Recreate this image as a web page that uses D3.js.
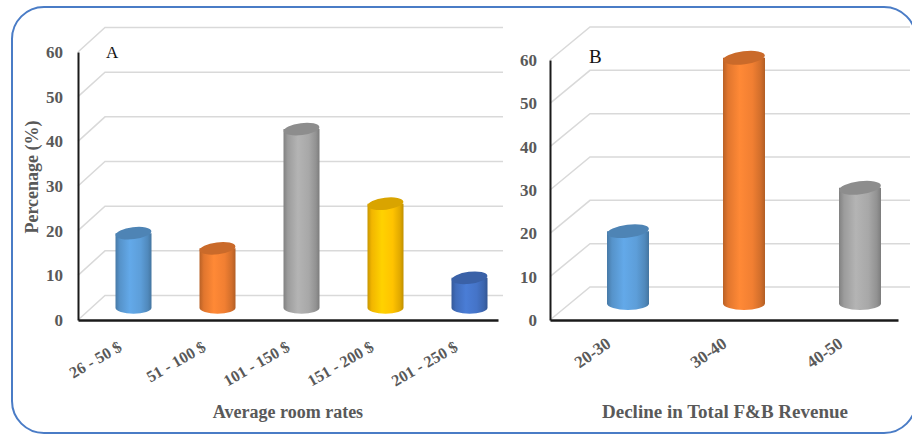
<!DOCTYPE html>
<html>
<head>
<meta charset="utf-8">
<script src="https://cdn.jsdelivr.net/npm/d3@7"></script>
<style>
  html, body { margin: 0; padding: 0; background: #fff; }
  svg { display: block; }
  text { font-family: "Liberation Serif", "Times New Roman", serif; }
</style>
</head>
<body>
<svg id="chart" width="912" height="434"></svg>
<script>
// ---- Data ----
const catsA = ["26 - 50 $", "51 - 100 $", "101 - 150 $", "151 - 200 $", "201 - 250 $"];
const valsA = [16.7, 13.3, 40, 23.3, 6.7];
const colorsA = ["#5b9bd5", "#ed7d31", "#a5a5a5", "#ffc000", "#4472c4"];

const catsB = ["20-30", "30-40", "40-50"];
const valsB = [16.7, 56.7, 26.7];
const colorsB = ["#5b9bd5", "#ed7d31", "#a5a5a5"];

const yTicks = [0, 10, 20, 30, 40, 50, 60];
const panelLabels = ["A", "B"];
const xTitles = ["Average room rates", "Decline in Total F&B Revenue"];
const yTitle = "Percenage (%)";

// ---- Drawing ----
const svg = d3.select("#chart");
const defs = svg.append("defs");

// outer rounded border
svg.append("rect")
  .attr("x", 12).attr("y", 7).attr("width", 904).attr("height", 426)
  .attr("rx", 32).attr("ry", 32)
  .attr("fill", "none").attr("stroke", "#4a7cc6").attr("stroke-width", 2);

let gradId = 0;
function makeGradient(color) {
  const c = d3.color(color);
  const id = "g" + (gradId++);
  const g = defs.append("linearGradient").attr("id", id)
    .attr("x1", "0%").attr("x2", "100%").attr("y1", "0%").attr("y2", "0%");
  g.append("stop").attr("offset", "0%").attr("stop-color", c.darker(0.7));
  g.append("stop").attr("offset", "12%").attr("stop-color", c.darker(0.15));
  g.append("stop").attr("offset", "40%").attr("stop-color", c.brighter(0.25));
  g.append("stop").attr("offset", "70%").attr("stop-color", c.brighter(0.05));
  g.append("stop").attr("offset", "90%").attr("stop-color", c.darker(0.35));
  g.append("stop").attr("offset", "100%").attr("stop-color", c.darker(0.8));
  return "url(#" + id + ")";
}

function drawPanel(cfg) {
  const g = svg.append("g");
  const y = d3.scaleLinear().domain([0, 60]).range([cfg.yBottom, cfg.yTop]);
  const x = d3.scaleBand().domain(cfg.cats).range([cfg.x0, cfg.x1]);

  // 3D gridlines (side diagonals + back wall)
  yTicks.forEach(t => {
    const fy = y(t);
    g.append("path")
      .attr("d", `M${cfg.x0},${fy} L${cfg.x0 + cfg.dx},${fy + cfg.dy} L${cfg.backRight},${fy + cfg.dy}`)
      .attr("fill", "none").attr("stroke", "#d9d9d9").attr("stroke-width", 1.5);
  });

  // cylinders
  const w = cfg.barW, rx = w / 2, ry = cfg.ry;
  cfg.vals.forEach((v, i) => {
    const cx = x(cfg.cats[i]) + x.bandwidth() / 2 + cfg.dx / 2;
    const base = cfg.yBottom + cfg.dy / 2;
    const top = base - (y(0) - y(v));
    const col = cfg.colors[i];
    g.append("path")
      .attr("d", `M${cx - rx},${top} L${cx - rx},${base} A${rx},${ry} 0 0 0 ${cx + rx},${base} L${cx + rx},${top} Z`)
      .attr("fill", makeGradient(col));
    g.append("ellipse")
      .attr("cx", cx).attr("cy", top).attr("rx", rx).attr("ry", ry)
      .attr("transform", `rotate(-7,${cx},${top})`)
      .attr("fill", d3.color(col).darker(0.45));
  });

  // y axis
  const ya = g.append("g").attr("transform", `translate(${cfg.x0},0)`)
    .call(d3.axisLeft(y).tickValues(yTicks).tickSize(0).tickPadding(cfg.yPad).tickSizeOuter(0));
  ya.select(".domain").attr("stroke", "#1a1a1a").attr("stroke-width", 2);
  ya.selectAll("text")
    .attr("font-family", "Liberation Serif, serif").attr("font-weight", "bold")
    .attr("font-size", 17).attr("fill", "#595959");

  // x axis
  const xa = g.append("g").attr("transform", `translate(0,${cfg.yBottom})`)
    .call(d3.axisBottom(x).tickSize(0).tickSizeOuter(0).tickFormat(() => ""));
  xa.select(".domain").attr("stroke", "#1a1a1a").attr("stroke-width", 2.5);

  cfg.cats.forEach(c => {
    const ax = x(c) + x.bandwidth() / 2 + cfg.labelDx;
    g.append("text")
      .attr("transform", `translate(${ax},${cfg.labelY}) rotate(${-cfg.labelAngle})`)
      .attr("text-anchor", "end")
      .attr("font-weight", "bold").attr("font-size", cfg.labelSize)
      .attr("fill", "#595959")
      .text(c);
  });

  // x title
  g.append("text")
    .attr("x", cfg.titleX).attr("y", 418)
    .attr("text-anchor", "middle")
    .attr("font-weight", "bold").attr("font-size", cfg.titleSize)
    .attr("fill", "#595959")
    .text(cfg.title);

  // panel letter
  g.append("text")
    .attr("x", cfg.letterX).attr("y", cfg.letterY)
    .attr("font-size", cfg.letterSize).attr("fill", "#111")
    .text(cfg.letter);
}

drawPanel({
  cats: catsA, vals: valsA, colors: colorsA,
  x0: 78, x1: 498, yBottom: 320, yTop: 52, dx: 27, dy: -24.5, backRight: 503,
  barW: 36, ry: 6, yPad: 15,
  labelDx: 3, labelY: 350, labelAngle: 30, labelSize: 16,
  title: xTitles[0], titleX: 288, titleSize: 18,
  letter: panelLabels[0], letterX: 106, letterY: 58, letterSize: 17
});

drawPanel({
  cats: catsB, vals: valsB, colors: colorsB,
  x0: 550, x1: 898, yBottom: 320, yTop: 60, dx: 40, dy: -33, backRight: 910,
  barW: 42, ry: 6.5, yPad: 13,
  labelDx: 4, labelY: 346, labelAngle: 35, labelSize: 17,
  title: xTitles[1], titleX: 725, titleSize: 19,
  letter: panelLabels[1], letterX: 589, letterY: 63, letterSize: 19
});

// y axis title
svg.append("text")
  .attr("transform", "translate(38,177) rotate(-90)")
  .attr("text-anchor", "middle")
  .attr("font-weight", "bold").attr("font-size", 18)
  .attr("fill", "#595959")
  .text(yTitle);
</script>
</body>
</html>
